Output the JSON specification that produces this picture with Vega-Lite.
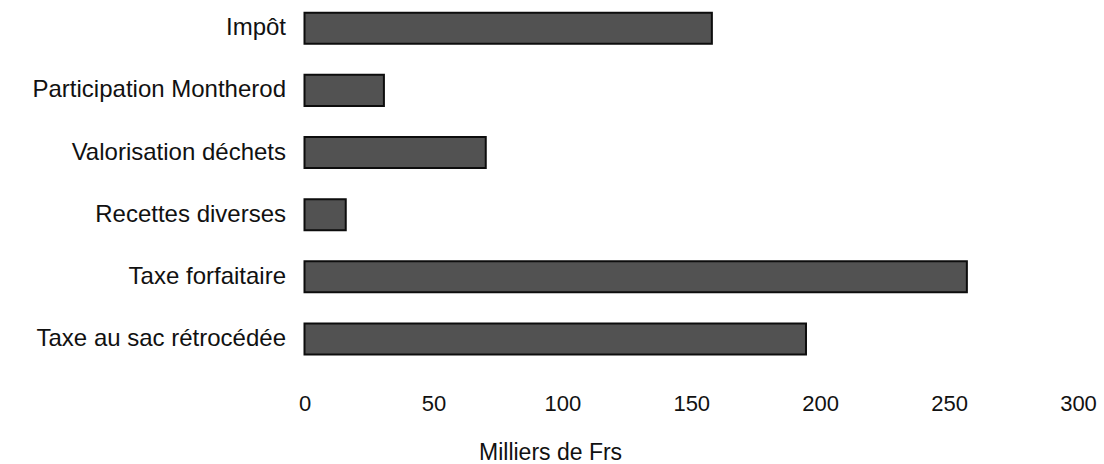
{
  "$schema": "https://vega.github.io/schema/vega-lite/v6.json",
  "autosize": {"type": "none"},
  "padding": {"left": 304.5, "top": 0, "right": 26, "bottom": 94},
  "width": 773.5,
  "height": 370,
  "background": "white",
  "data": {
    "values": [
      {"categorie": "Impôt", "montant": 158},
      {"categorie": "Participation Montherod", "montant": 30.8},
      {"categorie": "Valorisation déchets", "montant": 70.3},
      {"categorie": "Recettes diverses", "montant": 16},
      {"categorie": "Taxe forfaitaire", "montant": 256.9},
      {"categorie": "Taxe au sac rétrocédée", "montant": 194.5}
    ]
  },
  "mark": {"type": "bar", "fill": "#525252", "stroke": "#0d0d0d", "strokeWidth": 2},
  "encoding": {
    "y": {
      "field": "categorie",
      "type": "nominal",
      "sort": null,
      "scale": {"paddingInner": 0.5, "paddingOuter": 0, "range": [12.7, 354.5]},
      "axis": {
        "title": null,
        "domain": false,
        "ticks": false,
        "tickSize": 0,
        "labelPadding": 19,
        "labelFont": "Liberation Sans",
        "labelFontSize": 24,
        "labelColor": "#111111",
        "labelLimit": 400
      }
    },
    "x": {
      "field": "montant",
      "type": "quantitative",
      "scale": {"domain": [0, 300], "nice": false},
      "axis": {
        "title": "Milliers de Frs",
        "values": [0, 50, 100, 150, 200, 250, 300],
        "grid": false,
        "domain": false,
        "ticks": false,
        "tickSize": 0,
        "labelPadding": 40,
        "labelBaseline": "alphabetic",
        "labelFont": "Liberation Sans",
        "labelFontSize": 22,
        "labelColor": "#111111",
        "labelFlush": false,
        "titleFont": "Liberation Sans",
        "titleFontSize": 23,
        "titleFontWeight": "normal",
        "titleColor": "#111111",
        "titleAlign": "left",
        "titleBaseline": "alphabetic",
        "titleX": 174,
        "titleY": 89
      }
    }
  },
  "config": {"view": {"stroke": null}}
}
